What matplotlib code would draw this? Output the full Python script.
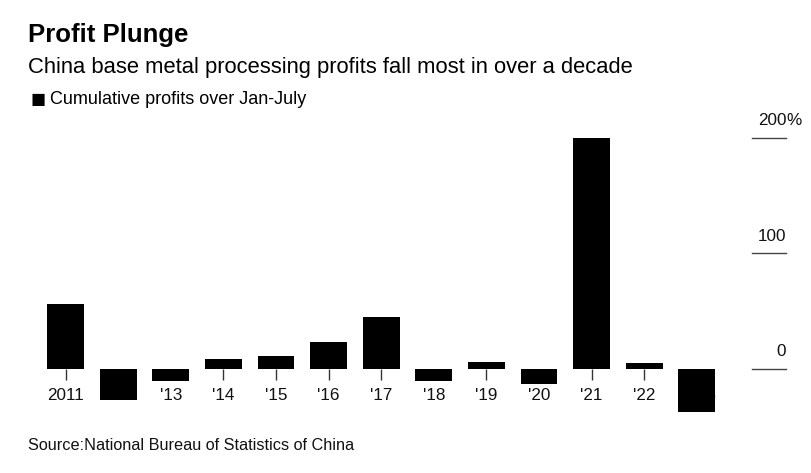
import matplotlib
matplotlib.use('Agg')
import matplotlib.pyplot as plt

plt.rcParams['font.family'] = ['Liberation Sans', 'DejaVu Sans']

# cumulative Jan-July profit change, %
years = ['2011', "'12", "'13", "'14", "'15", "'16", "'17", "'18", "'19", "'20", "'21", "'22", '2023']
profits = [56, -27, -10, 9, 11.5, 23, 45, -10, 6, -13, 200, 5, -37]
yticks = [0, 100, 200]
ytick_labels = ['0', '100', '200']

fig = plt.figure(figsize=(8.12, 4.73), dpi=100)
W, H = 812, 473

# axes placed in pixel terms
left, right, top, bottom = 40, 790, 129.9, 417.5
ax = fig.add_axes([left / W, 1 - bottom / H, (right - left) / W, (bottom - top) / H])

x = list(range(len(years)))
ax.bar(x, profits, width=0.70, color='black', zorder=2)

ax.set_xlim(-0.485, 13.77)
ax.set_ylim(-42, 207)

# x axis at zero, labels drawn behind bars
ax.set_axisbelow(True)
for s in ['top', 'right', 'left']:
    ax.spines[s].set_visible(False)
ax.spines['bottom'].set_position(('data', 0))
ax.spines['bottom'].set_visible(False)
ax.set_xticks(x)
ax.set_xticklabels(years, fontsize=12.3)
ax.tick_params(axis='x', length=8, width=1, color='#333333', pad=6, labelcolor='#111111')
ax.set_yticks([])

# right-side value scale
trans = ax.get_yaxis_transform()
for v, lab in zip(yticks, ytick_labels):
    ax.plot([0.949, 0.995], [v, v], color='#444444', lw=1, transform=trans, clip_on=False)
    ax.annotate(lab, xy=(0.995, v), xycoords=trans, xytext=(0, 7), textcoords='offset points',
                ha='right', va='bottom', fontsize=12.3, color='#111111')
ax.annotate('%', xy=(0.995, 200), xycoords=trans, xytext=(0, 7), textcoords='offset points',
            ha='left', va='bottom', fontsize=12.3, color='#111111')

# headings
fig.text(28 / W, 1 - 35 / H, 'Profit Plunge', fontsize=18.5, fontweight='bold', va='center', ha='left')
fig.text(28 / W, 1 - 68 / H, 'China base metal processing profits fall most in over a decade',
         fontsize=15.8, va='center', ha='left')
fig.text(31 / W, 1 - 99.5 / H, '\u25A0', fontsize=18, va='center', ha='left')
fig.text(50 / W, 1 - 99 / H, 'Cumulative profits over Jan-July', fontsize=13, va='center', ha='left')
fig.text(28 / W, 1 - 445 / H, 'Source:National Bureau of Statistics of China', fontsize=11.7,
         va='center', ha='left', color='#111111')

fig.savefig('out.png', dpi=100)
